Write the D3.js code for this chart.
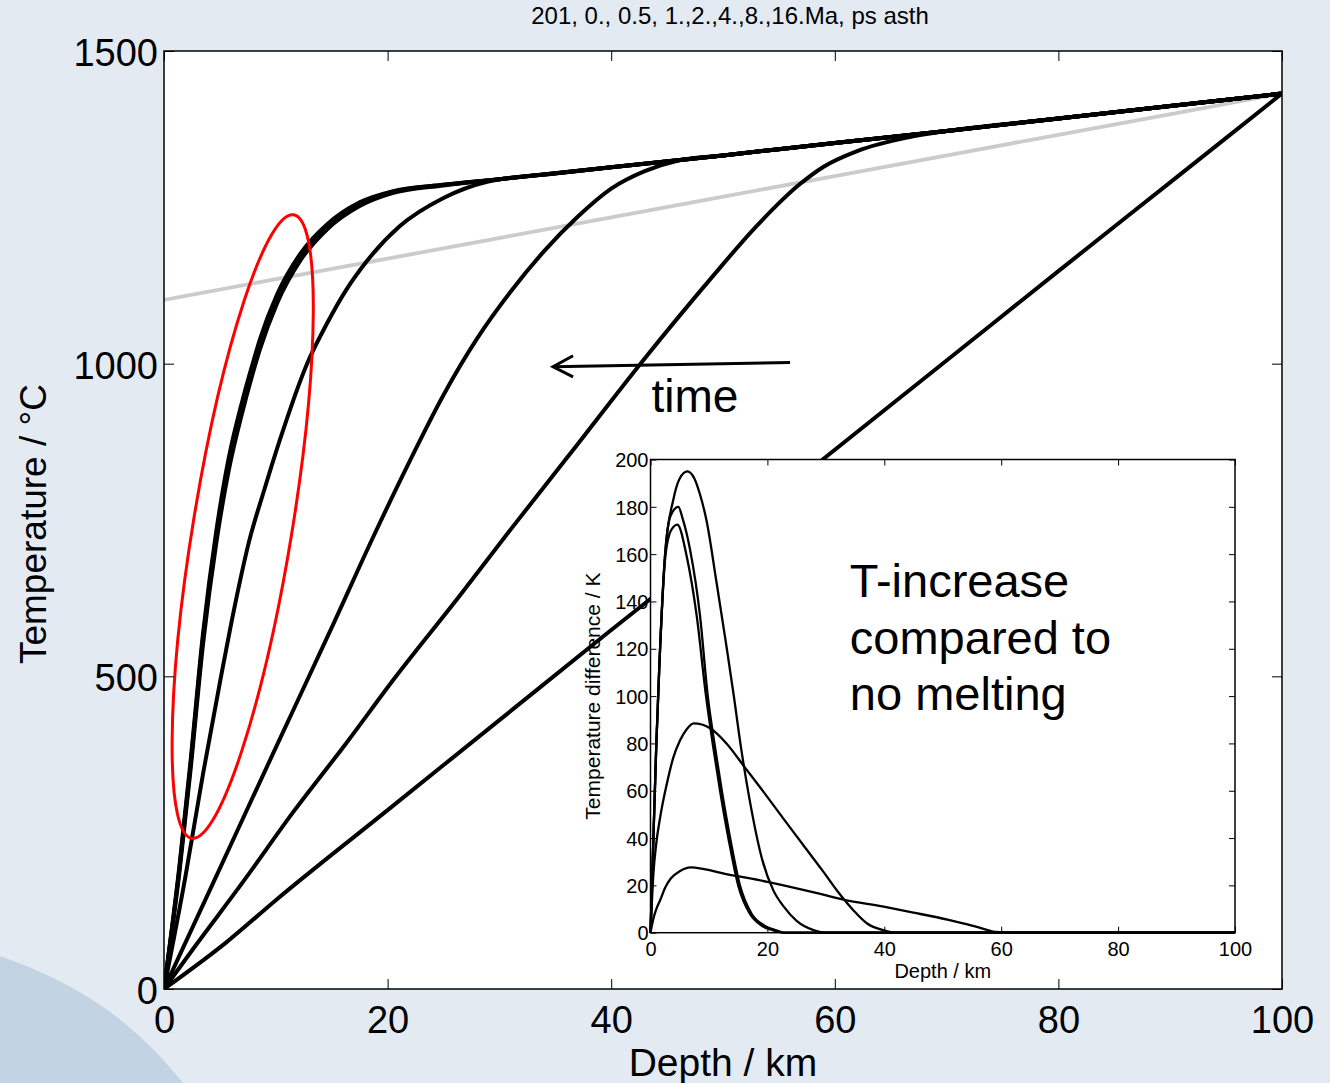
<!DOCTYPE html>
<html>
<head>
<meta charset="utf-8">
<script src="https://cdn.jsdelivr.net/npm/d3@7"></script>
<style>
  html, body { margin: 0; padding: 0; background: #e3eaf1; }
  svg text { font-family: "Liberation Sans", Arial, Helvetica, sans-serif; fill: #000; }
</style>
</head>
<body>
<svg id="chart" width="1330" height="1083"></svg>
<script>
// Temperature profiles after 0 .. 16 Ma, plus inset of T-increase vs. no melting.

// ---- main plot data (depth km, temperature °C) ----
const depth0Ma  = [0, 5.6, 10, 20, 30, 40, 50, 59, 70, 80, 90, 100];
const temp0Ma   = [0, 75, 142, 286, 430, 574, 716, 848, 1005, 1148, 1290, 1432];

const depth05Ma = [0, 2.6, 7.1, 11.6, 16.3, 20.5, 26.5, 31.1, 36.2, 42.8, 49, 53, 56.8, 59, 62, 66.6, 70, 80, 90, 100];
const temp05Ma  = [0, 64, 172, 284, 393, 494, 630, 737, 853, 1004, 1138, 1220, 1286, 1315, 1340, 1362, 1372, 1392, 1412, 1432];

const depth1Ma  = [0, 5, 10, 15, 18.9, 22, 25, 28, 31, 34, 37, 40, 43, 46, 50, 60, 70, 80, 90, 100];
const temp1Ma   = [0, 193, 386, 578, 730, 845, 950, 1040, 1115, 1180, 1235, 1280, 1308, 1325, 1333, 1353, 1372, 1392, 1412, 1432];

const depth2Ma  = [0, 1.9, 3.5, 5.0, 6.3, 7.6, 9.0, 10.4, 12.8, 14.6, 16.3, 18.1, 21.1, 25, 28.9, 35, 40, 50, 60, 70, 80, 90, 100];
const temp2Ma   = [0, 178, 345, 490, 610, 715, 800, 880, 1000, 1065, 1118, 1163, 1220, 1265, 1291, 1304, 1314, 1333, 1353, 1372, 1392, 1412, 1432];

const depthLate = [0, 1.4, 2.35, 3.5, 4.7, 5.8, 7.0, 7.9, 8.6, 10.1, 12.2, 14.6, 17.5, 20.5, 25, 30, 40, 50, 60, 70, 80, 90, 100];
const temp4Ma   = [0, 190, 346, 553, 716, 830, 922, 982, 1024, 1096, 1165, 1215, 1252, 1273, 1285, 1295, 1314, 1333, 1353, 1372, 1392, 1412, 1432];
const temp8Ma   = [0, 196, 354, 563, 727, 842, 933, 992, 1034, 1105, 1172, 1220, 1256, 1275, 1286, 1295, 1314, 1333, 1353, 1372, 1392, 1412, 1432];
const temp16Ma  = [0, 200, 360, 570, 735, 850, 940, 998, 1040, 1110, 1176, 1223, 1258, 1276, 1286, 1295, 1314, 1333, 1353, 1372, 1392, 1412, 1432];

const solidusDepth = [0, 20, 40, 60, 80, 100];
const solidusTemp  = [1102, 1168, 1234, 1300, 1366, 1432];

// ---- inset data (depth km, temperature difference K) ----
const incDepth1 = [0, 0.5, 1.0, 1.5, 2.5, 3.9, 5.0, 6.3, 7.5, 8.5, 9.6, 11.3, 13.0, 14.2, 15.5, 16.9, 19.1, 21, 22.8, 25, 28, 30, 100];
const incValue1 = [0, 40, 80, 112, 160, 183, 192, 195, 192, 185, 174, 148, 121, 101, 78, 57, 31, 18, 11, 5, 1, 0, 0];

const incDepth2 = [0, 0.5, 1.0, 1.5, 2.5, 3.4, 4.76, 5.5, 6.76, 8.47, 9.8, 11.0, 12.2, 13.7, 15.3, 17.3, 19.5, 21.5, 23, 100];
const incValue2 = [0, 40, 80, 112, 160, 176, 180, 175, 162, 134, 100, 79, 60, 39, 20, 8, 3, 1, 0, 0];

const incDepth3 = [0, 0.5, 1.0, 1.5, 2.5, 3.5, 4.6, 6.2, 7.9, 9.5, 10.7, 11.9, 13.4, 15.0, 17.0, 19.0, 21, 23, 100];
const incValue3 = [0, 40, 80, 112, 158, 170, 172.5, 159, 134, 100, 79, 60, 39, 20, 8, 3, 1, 0, 0];

const incDepth4 = [0, 0.5, 1.0, 1.6, 2.8, 3.9, 5.0, 6.2, 7.4, 8.8, 10.2, 13, 16.1, 19.5, 22.8, 26, 29.5, 32, 34.7, 37, 39.9, 42, 100];
const incValue4 = [0, 25, 38, 48, 63, 74, 81, 86, 88.5, 88, 86.4, 80, 70, 59, 48, 37.5, 26, 17.5, 9.5, 4, 1, 0, 0];

const incDepth5 = [0, 0.5, 1.0, 1.66, 2.5, 3.5, 5, 6.9, 9, 12.4, 19.8, 28.7, 33, 39.9, 45, 51, 55, 57.7, 59, 62, 100];
const incValue5 = [0, 6, 10, 13.8, 19, 23, 26, 27.6, 27, 25.1, 21.6, 16.6, 14, 11, 8.5, 5.4, 3, 1.1, 0.3, 0, 0];

// ---- ticks & annotations ----
const mainXTicks = [0, 20, 40, 60, 80, 100];
const mainYTicks = [0, 500, 1000, 1500];
const insetXTicks = [0, 20, 40, 60, 80, 100];
const insetYTicks = [0, 20, 40, 60, 80, 100, 120, 140, 160, 180, 200];
const insetNote = ["T-increase", "compared to", "no melting"];
const noteValues = [142, 118, 94];

const ellipseTop = [11.6, 1238];
const ellipseBottom = [2.48, 241];
const arrowTail = [56, 1002];
const arrowTip = [34.8, 995];
const timeLabelAt = [43.6, 923];

const profiles = [
  { depth: depth0Ma,  temp: temp0Ma },
  { depth: depth05Ma, temp: temp05Ma },
  { depth: depth1Ma,  temp: temp1Ma },
  { depth: depth2Ma,  temp: temp2Ma },
  { depth: depthLate, temp: temp4Ma },
  { depth: depthLate, temp: temp8Ma },
  { depth: depthLate, temp: temp16Ma }
];

const increases = [
  { depth: incDepth1, value: incValue1 },
  { depth: incDepth2, value: incValue2 },
  { depth: incDepth3, value: incValue3 },
  { depth: incDepth4, value: incValue4 },
  { depth: incDepth5, value: incValue5 }
];

const svg = d3.select("#chart");

svg.append("rect")
  .attr("width", 1330).attr("height", 1083)
  .attr("fill", "#e3eaf1");

// decorative slide corner
svg.append("path")
  .attr("d", "M0,956 C60,978 120,1005 183,1083 L0,1083 Z")
  .attr("fill", "#c2d3e4");

// ---- main plot ----
const x = d3.scaleLinear().domain([0, 100]).range([164, 1282]);
const y = d3.scaleLinear().domain([0, 1500]).range([989, 51]);

svg.append("rect")
  .attr("x", x(0)).attr("y", y(1500))
  .attr("width", x(100) - x(0)).attr("height", y(0) - y(1500))
  .attr("fill", "#ffffff");

svg.append("clipPath").attr("id", "main-clip")
  .append("rect")
  .attr("x", x(0)).attr("y", y(1500))
  .attr("width", x(100) - x(0)).attr("height", y(0) - y(1500));

const plot = svg.append("g").attr("clip-path", "url(#main-clip)");

const mainLine = d3.line()
  .x(d => x(d[0]))
  .y(d => y(d[1]))
  .curve(d3.curveMonotoneX);

plot.append("path")
  .attr("d", mainLine(d3.zip(solidusDepth, solidusTemp)))
  .attr("fill", "none")
  .attr("stroke", "#cbcbcb")
  .attr("stroke-width", 3.8);

plot.selectAll(".profile")
  .data(profiles)
  .join("path")
  .attr("class", "profile")
  .attr("d", p => mainLine(d3.zip(p.depth, p.temp)))
  .attr("fill", "none")
  .attr("stroke", "#000")
  .attr("stroke-width", 4)
  .attr("stroke-linejoin", "round");

// red ellipse around the early-time curves
const ex1 = x(ellipseTop[0]), ey1 = y(ellipseTop[1]);
const ex2 = x(ellipseBottom[0]), ey2 = y(ellipseBottom[1]);
const ecx = (ex1 + ex2) / 2, ecy = (ey1 + ey2) / 2;
const eLen = Math.hypot(ex1 - ex2, ey1 - ey2) / 2;
const eAngle = Math.atan2(ex1 - ex2, ey2 - ey1) * 180 / Math.PI;

plot.append("ellipse")
  .attr("cx", 0).attr("cy", 0)
  .attr("rx", 49.5).attr("ry", eLen)
  .attr("transform", `translate(${ecx},${ecy}) rotate(${eAngle})`)
  .attr("fill", "none")
  .attr("stroke", "#ff0000")
  .attr("stroke-width", 3);

// time arrow
const ax1 = x(arrowTail[0]), ay1 = y(arrowTail[1]);
const ax2 = x(arrowTip[0]), ay2 = y(arrowTip[1]);
svg.append("line")
  .attr("x1", ax1).attr("y1", ay1).attr("x2", ax2).attr("y2", ay2)
  .attr("stroke", "#000").attr("stroke-width", 3);
svg.append("path")
  .attr("d", `M${ax2 + 20},${ay2 - 11} L${ax2},${ay2} L${ax2 + 20},${ay2 + 10}`)
  .attr("fill", "none").attr("stroke", "#000").attr("stroke-width", 3);

svg.append("text")
  .attr("x", x(timeLabelAt[0]))
  .attr("y", y(timeLabelAt[1]))
  .attr("font-size", 46)
  .text("time");

// main axes: inward ticks on all sides
const mainAxes = svg.append("g").attr("class", "main-axes");

mainAxes.append("g")
  .attr("transform", `translate(0,${y(0)})`)
  .call(d3.axisBottom(x).tickValues(mainXTicks).tickFormat(d3.format("d"))
    .tickSize(-10).tickSizeOuter(0).tickPadding(17))
  .call(g => g.selectAll("text").attr("font-size", 38));

mainAxes.append("g")
  .attr("transform", `translate(0,${y(1500)})`)
  .call(d3.axisTop(x).tickValues(mainXTicks).tickSize(-10).tickSizeOuter(0).tickFormat(""));

mainAxes.append("g")
  .attr("transform", `translate(${x(0)},0)`)
  .call(d3.axisLeft(y).tickValues(mainYTicks).tickFormat(d3.format("d"))
    .tickSize(-10).tickSizeOuter(0).tickPadding(6))
  .call(g => g.selectAll("text").attr("font-size", 38).attr("dy", "0.38em"));

mainAxes.append("g")
  .attr("transform", `translate(${x(100)},0)`)
  .call(d3.axisRight(y).tickValues(mainYTicks).tickSize(-10).tickSizeOuter(0).tickFormat(""));

mainAxes.selectAll(".domain").remove();
mainAxes.selectAll("line").attr("stroke", "#000").attr("stroke-width", 1);
mainAxes.selectAll("text").attr("fill", "#000").attr("font-family", null);

svg.append("rect")
  .attr("x", x(0)).attr("y", y(1500))
  .attr("width", x(100) - x(0)).attr("height", y(0) - y(1500))
  .attr("fill", "none").attr("stroke", "#000").attr("stroke-width", 1.5);

// ---- inset ----
const ix = d3.scaleLinear().domain([0, 100]).range([650.5, 1235]);
const iy = d3.scaleLinear().domain([0, 200]).range([932.7, 459.5]);

svg.append("rect")
  .attr("x", ix(0)).attr("y", iy(200))
  .attr("width", ix(100) - ix(0)).attr("height", iy(0) - iy(200))
  .attr("fill", "#ffffff");

const insetLine = d3.line()
  .x(d => ix(d[0]))
  .y(d => iy(d[1]))
  .curve(d3.curveMonotoneX);

svg.selectAll(".increase")
  .data(increases)
  .join("path")
  .attr("class", "increase")
  .attr("d", c => insetLine(d3.zip(c.depth, c.value)))
  .attr("fill", "none")
  .attr("stroke", "#000")
  .attr("stroke-width", 2.3)
  .attr("stroke-linejoin", "round");

const insetAxes = svg.append("g").attr("class", "inset-axes");

insetAxes.append("g")
  .attr("transform", `translate(0,${iy(0)})`)
  .call(d3.axisBottom(ix).tickValues(insetXTicks).tickSize(-6).tickSizeOuter(0).tickPadding(9))
  .call(g => g.selectAll("text").attr("font-size", 20));

insetAxes.append("g")
  .attr("transform", `translate(0,${iy(200)})`)
  .call(d3.axisTop(ix).tickValues(insetXTicks).tickSize(-6).tickSizeOuter(0).tickFormat(""));

insetAxes.append("g")
  .attr("transform", `translate(${ix(0)},0)`)
  .call(d3.axisLeft(iy).tickValues(insetYTicks).tickSize(-6).tickSizeOuter(0).tickPadding(2))
  .call(g => g.selectAll("text").attr("font-size", 20).attr("dy", "0.36em"));

insetAxes.append("g")
  .attr("transform", `translate(${ix(100)},0)`)
  .call(d3.axisRight(iy).tickValues(insetYTicks).tickSize(-6).tickSizeOuter(0).tickFormat(""));

insetAxes.selectAll(".domain").remove();
insetAxes.selectAll("line").attr("stroke", "#000").attr("stroke-width", 1);
insetAxes.selectAll("text").attr("fill", "#000").attr("font-family", null);

svg.append("rect")
  .attr("x", ix(0)).attr("y", iy(200))
  .attr("width", ix(100) - ix(0)).attr("height", iy(0) - iy(200))
  .attr("fill", "none").attr("stroke", "#000").attr("stroke-width", 1.5);

svg.selectAll(".note")
  .data(insetNote)
  .join("text")
  .attr("class", "note")
  .attr("x", ix(34.1))
  .attr("y", (d, i) => iy(noteValues[i]))
  .attr("font-size", 47)
  .text(d => d);

svg.append("text")
  .attr("x", ix(50)).attr("y", 978)
  .attr("text-anchor", "middle")
  .attr("font-size", 20)
  .text("Depth / km");

svg.append("text")
  .attr("transform", `translate(600,${(iy(0) + iy(200)) / 2}) rotate(-90)`)
  .attr("text-anchor", "middle")
  .attr("font-size", 21)
  .text("Temperature difference / K");

// ---- titles ----
svg.append("text")
  .attr("x", 730).attr("y", 24)
  .attr("text-anchor", "middle")
  .attr("font-size", 24)
  .text("201, 0., 0.5, 1.,2.,4.,8.,16.Ma, ps asth");

svg.append("text")
  .attr("x", (x(0) + x(100)) / 2).attr("y", 1076)
  .attr("text-anchor", "middle")
  .attr("font-size", 39)
  .text("Depth / km");

svg.append("text")
  .attr("transform", "translate(46,524) rotate(-90)")
  .attr("text-anchor", "middle")
  .attr("font-size", 37)
  .text("Temperature / °C");
</script>
</body>
</html>
